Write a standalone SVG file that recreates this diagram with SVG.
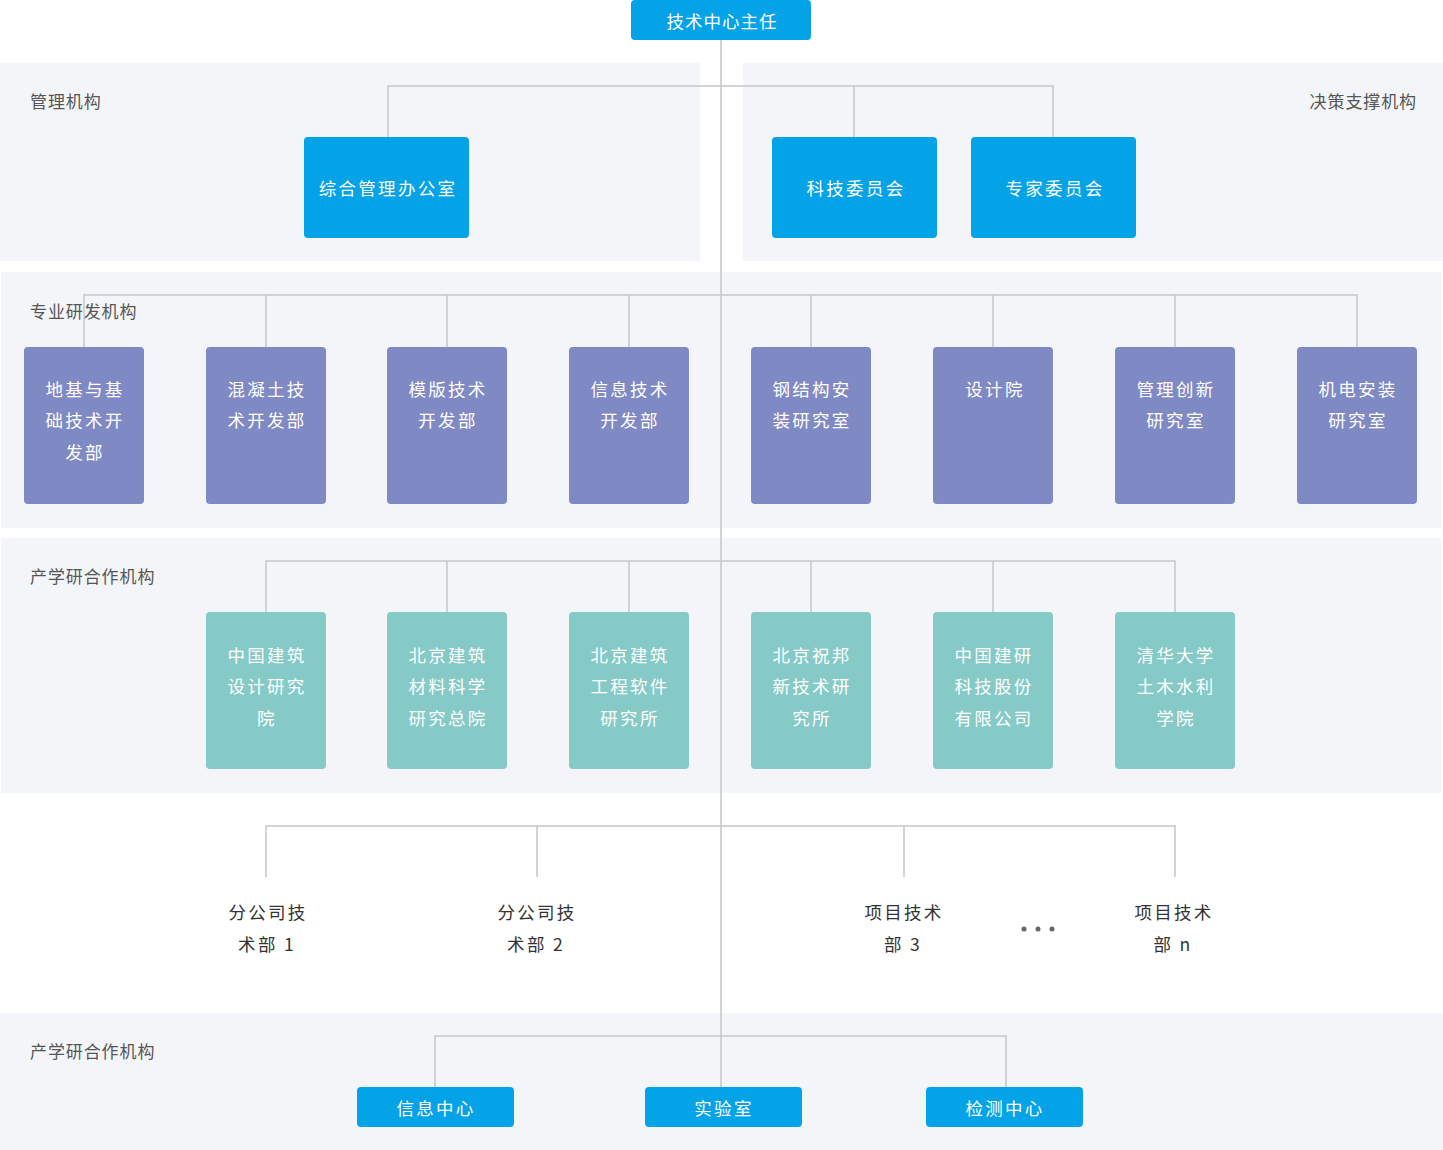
<svg xmlns="http://www.w3.org/2000/svg" width="1443" height="1150" viewBox="0 0 1443 1150">
<style>
text{font-family:"Noto Sans CJK SC","Noto Sans",sans-serif;dominant-baseline:central}
.panel{fill:#f4f5f9}
.lbl{font-size:17px;fill:#555;letter-spacing:0.9px}
.conn{stroke:#c6c6c6;stroke-width:1.5;fill:none}
.blue{fill:#04a2e6}
.purple{fill:#7f89c3}
.teal{fill:#85cac7}
.bt{font-size:17.5px;fill:#fff;text-anchor:middle;letter-spacing:2.3px}
.dt{font-size:17.5px;fill:#333;text-anchor:middle;letter-spacing:2.3px}
</style>
<rect width="1443" height="1150" fill="#fff"/>
<g id="panels">
<rect class="panel" x="0" y="63" width="700" height="198"/>
<rect class="panel" x="743" y="63" width="700" height="198"/>
<rect class="panel" x="1" y="272" width="1440" height="256"/>
<rect class="panel" x="1" y="538" width="1440" height="255"/>
<rect class="panel" x="0" y="1013" width="1443" height="137"/>
<text class="lbl" x="30" y="100">管理机构</text>
<text class="lbl" x="1417" y="100" text-anchor="end">决策支撑机构</text>
<text class="lbl" x="30" y="310">专业研发机构</text>
<text class="lbl" x="30" y="575">产学研合作机构</text>
<text class="lbl" x="30" y="1050">产学研合作机构</text>
</g>
<g id="connectors" class="conn">
<path d="M721 40V1087"/>
<path d="M388 137V86H1053V137M854 86V137"/>
<path d="M84 347V295H1357V347M266 295V347M447 295V347M629 295V347M811 295V347M993 295V347M1175 295V347"/>
<path d="M266 612V561H1175V612M447 561V612M629 561V612M811 561V612M993 561V612"/>
<path d="M266 877V826H1175V877M537 826V877M904 826V877"/>
<path d="M435 1087V1036H1006V1087"/>
</g>
<g id="n-director"><rect class="blue" x="631" y="0" width="180" height="40" rx="4"/><text class="bt" x="722" y="20" style="letter-spacing:1px">技术中心主任</text></g>
<g id="n-office"><rect class="blue" x="304" y="137" width="165" height="101" rx="4"/><text class="bt" x="388" y="187">综合管理办公室</text></g>
<g id="n-sci"><rect class="blue" x="772" y="137" width="165" height="101" rx="4"/><text class="bt" x="856" y="187">科技委员会</text></g>
<g id="n-expert"><rect class="blue" x="971" y="137" width="165" height="101" rx="4"/><text class="bt" x="1055" y="187">专家委员会</text></g>
<g id="n-r1"><rect class="purple" x="24" y="347" width="120" height="157" rx="4"/><text class="bt" x="85" y="388">地基与基</text><text class="bt" x="85" y="419">础技术开</text><text class="bt" x="85" y="451">发部</text></g>
<g id="n-r2"><rect class="purple" x="206" y="347" width="120" height="157" rx="4"/><text class="bt" x="267" y="388">混凝土技</text><text class="bt" x="267" y="419">术开发部</text></g>
<g id="n-r3"><rect class="purple" x="387" y="347" width="120" height="157" rx="4"/><text class="bt" x="448" y="388">模版技术</text><text class="bt" x="448" y="419">开发部</text></g>
<g id="n-r4"><rect class="purple" x="569" y="347" width="120" height="157" rx="4"/><text class="bt" x="630" y="388">信息技术</text><text class="bt" x="630" y="419">开发部</text></g>
<g id="n-r5"><rect class="purple" x="751" y="347" width="120" height="157" rx="4"/><text class="bt" x="812" y="388">钢结构安</text><text class="bt" x="812" y="419">装研究室</text></g>
<g id="n-r6"><rect class="purple" x="933" y="347" width="120" height="157" rx="4"/><text class="bt" x="995" y="388">设计院</text></g>
<g id="n-r7"><rect class="purple" x="1115" y="347" width="120" height="157" rx="4"/><text class="bt" x="1176" y="388">管理创新</text><text class="bt" x="1176" y="419">研究室</text></g>
<g id="n-r8"><rect class="purple" x="1297" y="347" width="120" height="157" rx="4"/><text class="bt" x="1358" y="388">机电安装</text><text class="bt" x="1358" y="419">研究室</text></g>
<g id="n-c1"><rect class="teal" x="206" y="612" width="120" height="157" rx="4"/><text class="bt" x="267" y="654">中国建筑</text><text class="bt" x="267" y="685">设计研究</text><text class="bt" x="267" y="717">院</text></g>
<g id="n-c2"><rect class="teal" x="387" y="612" width="120" height="157" rx="4"/><text class="bt" x="448" y="654">北京建筑</text><text class="bt" x="448" y="685">材料科学</text><text class="bt" x="448" y="717">研究总院</text></g>
<g id="n-c3"><rect class="teal" x="569" y="612" width="120" height="157" rx="4"/><text class="bt" x="630" y="654">北京建筑</text><text class="bt" x="630" y="685">工程软件</text><text class="bt" x="630" y="717">研究所</text></g>
<g id="n-c4"><rect class="teal" x="751" y="612" width="120" height="157" rx="4"/><text class="bt" x="812" y="654">北京祝邦</text><text class="bt" x="812" y="685">新技术研</text><text class="bt" x="812" y="717">究所</text></g>
<g id="n-c5"><rect class="teal" x="933" y="612" width="120" height="157" rx="4"/><text class="bt" x="994" y="654">中国建研</text><text class="bt" x="994" y="685">科技股份</text><text class="bt" x="994" y="717">有限公司</text></g>
<g id="n-c6"><rect class="teal" x="1115" y="612" width="120" height="157" rx="4"/><text class="bt" x="1176" y="654">清华大学</text><text class="bt" x="1176" y="685">土木水利</text><text class="bt" x="1176" y="717">学院</text></g>
<g id="n-b1"><text class="dt" x="268" y="911">分公司技</text><text class="dt" x="267" y="943">术部 1</text></g>
<g id="n-b2"><text class="dt" x="537" y="911">分公司技</text><text class="dt" x="536" y="943">术部 2</text></g>
<g id="n-p3"><text class="dt" x="904" y="911">项目技术</text><text class="dt" x="903" y="943">部 3</text></g>
<g id="n-dots" fill="#666"><circle cx="1024" cy="929" r="2.5"/><circle cx="1038" cy="929" r="2.5"/><circle cx="1052" cy="929" r="2.5"/></g>
<g id="n-pn"><text class="dt" x="1174" y="911">项目技术</text><text class="dt" x="1173" y="943">部 n</text></g>
<g id="n-info"><rect class="blue" x="357" y="1087" width="157" height="40" rx="4"/><text class="bt" x="436" y="1107">信息中心</text></g>
<g id="n-lab"><rect class="blue" x="645" y="1087" width="157" height="40" rx="4"/><text class="bt" x="724" y="1107">实验室</text></g>
<g id="n-test"><rect class="blue" x="926" y="1087" width="157" height="40" rx="4"/><text class="bt" x="1005" y="1107">检测中心</text></g>
</svg>
